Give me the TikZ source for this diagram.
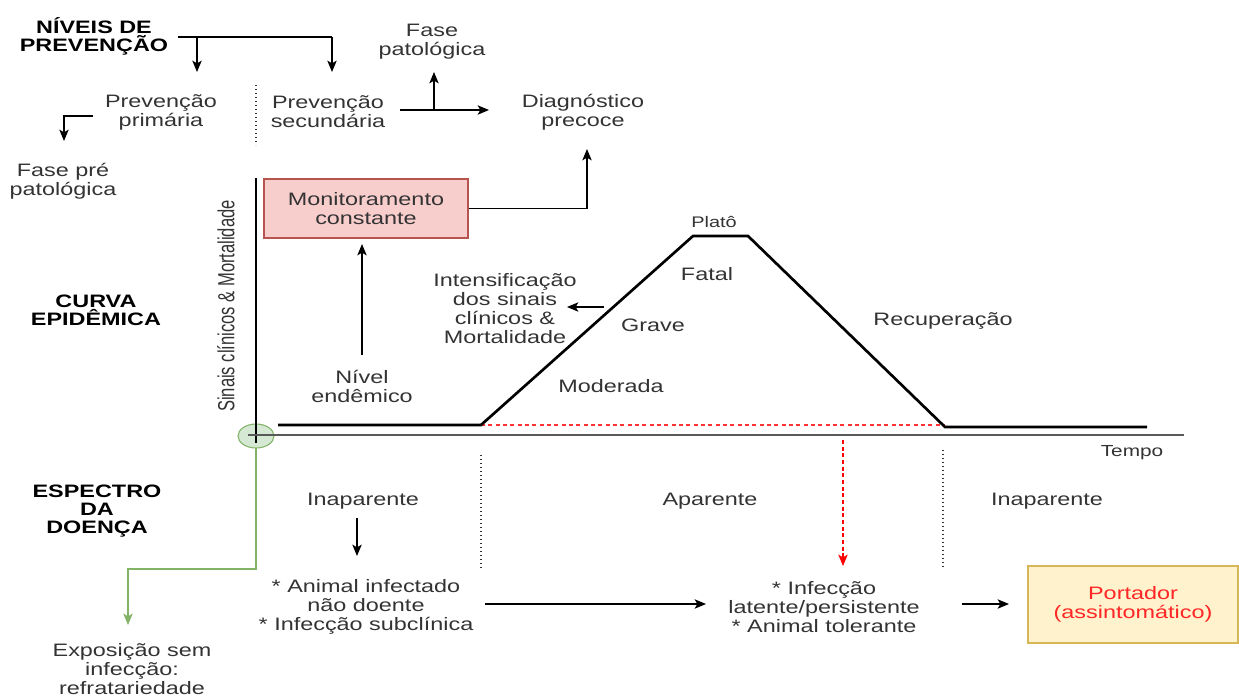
\documentclass[tikz,border=0pt]{standalone}
\usepackage{fontspec}
\setmainfont{Liberation Sans}[FakeStretch=1.3]
\newfontfamily\rotfont{Liberation Sans}[FakeStretch=0.71]
\usetikzlibrary{arrows.meta}

\definecolor{txt}{HTML}{333333}
\definecolor{axisgray}{HTML}{595959}
\definecolor{monfill}{HTML}{F8CECC}
\definecolor{monline}{HTML}{B85450}
\definecolor{portfill}{HTML}{FFF2CC}
\definecolor{portline}{HTML}{D6B656}
\definecolor{expfill}{HTML}{D5E8D4}
\definecolor{expline}{HTML}{82B366}

\tikzset{
  base/.style={align=center, text=txt, inner sep=0pt,
    font=\fontsize{13.5}{14.25}\selectfont},
  lbl/.style={base, yshift=-1.5pt},
  small/.style={lbl, font=\fontsize{11.5}{14}\selectfont},
  head/.style={align=center, inner sep=0pt,
    font=\bfseries\fontsize{13.5}{13.5}\selectfont},
  flow/.style={-{Stealth[length=8.5pt,width=7pt,inset=2pt]}, line width=1.1pt},
  dots/.style={dotted, line width=1pt, black!80}
}

\begin{document}
\begin{tikzpicture}[x=0.75pt, y=-0.75pt]
  \useasboundingbox (0,0) rectangle (1239,697);

  % Headings
  \node[head] (niveis) at (94,36) {NÍVEIS DE\\PREVENÇÃO};
  \node[head] (curva) at (96,310) {CURVA\\EPIDÊMICA};
  \node[head] (espectro) at (97,511) {ESPECTRO\\DA\\DOENÇA};

  % Levels of prevention
  \node[lbl] (primaria) at (161,110) {Prevenção\\primária};
  \node[lbl] (secundaria) at (328,110) {Prevenção\\secundária};
  \node[lbl] (diag) at (583,110) {Diagnóstico\\precoce};
  \node[lbl] (fasepat) at (432,40) {Fase\\patológica};
  \node[lbl] (faseprepat) at (63,179) {Fase pré\\patológica};

  \coordinate (tipprim) at (197,72);
  \coordinate (tipsec) at (332,72);
  \draw[line width=1.1pt] (178,37) -- (332,37);
  \draw[flow] (197,37) -- (tipprim);
  \draw[flow] (332,37) -- (tipsec);

  \coordinate (tipdiag) at (489,110);
  \coordinate (tipfase) at (434,72);
  \draw[flow] (400,110) -- (tipdiag);
  \draw[flow] (434,110) -- (tipfase);

  \coordinate (tipprepat) at (64,141);
  \draw[flow] (93,116) -- (64,116) -- (tipprepat);

  \draw[dots] (256,85) -- (256,145);

  % Monitoring box
  \node[base, draw=monline, fill=monfill, line width=0.8pt,
    minimum width=153pt, minimum height=44.25pt] (mon) at (366,208.5)
    {Monitoramento\\constante};
  \coordinate (tipmon) at (587,149);
  \draw[flow] (mon.east) -- (587,208.5) -- (tipmon);

  % Axes
  \draw[draw=expline, fill=expfill, line width=0.8pt] (256,436) ellipse [x radius=18, y radius=12];
  \draw[line width=1.5pt] (256,178) -- (256,443);
  \draw[axisgray, line width=1.5pt] (248,435) -- (1184,435);
  \node[base, rotate=90, font=\rotfont\fontsize{17.5}{17.5}\selectfont] (eixo) at (226,306)
    {Sinais clínicos \& Mortalidade};
  \node[lbl, font=\fontsize{12}{14}\selectfont] (tempo) at (1132,451) {Tempo};

  % Epidemic curve
  \draw[red!80, dashed, line width=0.8pt, dash pattern=on 3pt off 2.5pt] (481,425) -- (945,425);
  \draw[line width=2pt, line join=miter] (278,425) -- (481,425) -- (693,236)
    -- (748,236) -- (945,427) -- (1147,427);

  \node[small] (plato) at (714,220) {Platô};
  \node[lbl] (fatal) at (707,272) {Fatal};
  \node[lbl] (grave) at (653,323) {Grave};
  \node[lbl] (moderada) at (611,384) {Moderada};
  \node[lbl] (recup) at (943,319) {Recuperação};
  \node[lbl] (intens) at (505,307) {Intensificação\\dos sinais\\clínicos \&\\Mortalidade};
  \node[lbl] (nivel) at (362,384) {Nível\\endêmico};

  \coordinate (tipintens) at (567,307);
  \draw[flow] (604,307) -- (tipintens);
  \coordinate (tipnivel) at (362,244);
  \draw[flow] (362,355) -- (tipnivel);

  % Disease spectrum
  \draw[dots] (481,455) -- (481,570);
  \draw[dots] (943,450) -- (943,568);

  \node[lbl] (inap1) at (363,499) {Inaparente};
  \node[lbl] (aparente) at (710,499) {Aparente};
  \node[lbl] (inap2) at (1047,499) {Inaparente};

  \node[lbl] (animal) at (366,605) {* Animal infectado\\não doente\\* Infecção subclínica};
  \node[lbl] (latente) at (824,605) {* Infecção\\latente/persistente\\* Animal tolerante};
  \node[base, text=red!85!white, draw=portline, fill=portfill, line width=0.8pt,
    minimum width=157.5pt, minimum height=57.75pt] (portador) at (1133,604.5)
    {Portador\\(assintomático)};
  \node[base] (exposicao) at (132,669) {Exposição sem\\infecção:\\refratariedade};

  \coordinate (tipinap) at (357,556);
  \draw[flow] (357,518) -- (tipinap);
  \coordinate (tiplat) at (706,604);
  \draw[flow] (485,604) -- (tiplat);
  \coordinate (tipport) at (1009,604);
  \draw[flow] (962,604) -- (tipport);
  \coordinate (tipred) at (843,566);
  \draw[flow, red, dashed, dash pattern=on 3pt off 2pt] (843,440) -- (tipred);
  \coordinate (tipexp) at (128,625);
  \draw[flow, expline] (256,448) -- (256,569) -- (128,569) -- (tipexp);
\end{tikzpicture}
\end{document}
